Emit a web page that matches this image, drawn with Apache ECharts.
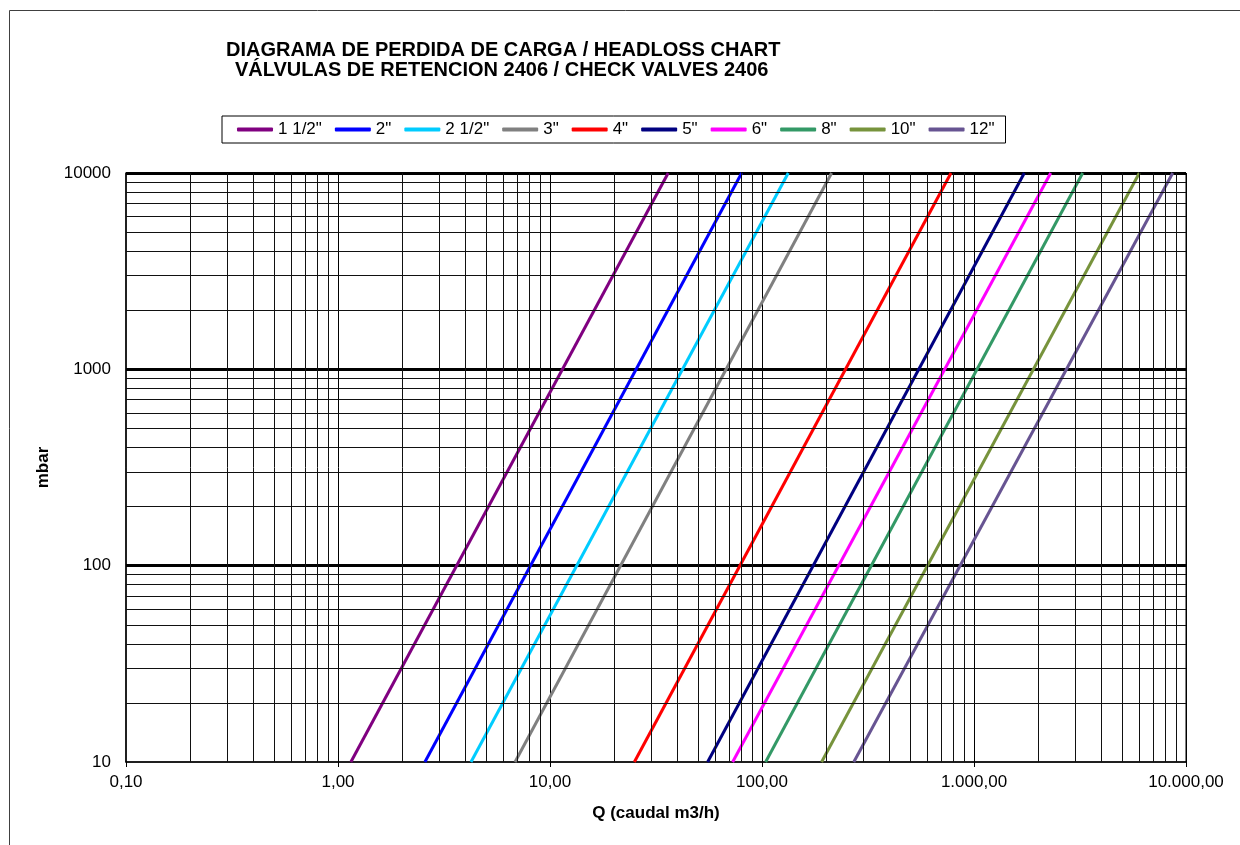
<!DOCTYPE html>
<html>
<head>
<meta charset="utf-8">
<script src="https://cdn.jsdelivr.net/npm/echarts@6/dist/echarts.min.js"></script>
<style>
  html, body { margin: 0; padding: 0; background: #fff; }
  #main { width: 1240px; height: 845px; }
</style>
</head>
<body>
<div id="main"></div>
<script>
var chartDom = document.getElementById('main');
var myChart = echarts.init(chartDom);
var option;

var FONT = "'Liberation Sans', Arial, sans-serif";

// diametros de valvula (leyenda)
var sizes = ['1 1/2"', '2"', '2 1/2"', '3"', '4"', '5"', '6"', '8"', '10"', '12"'];
var lineColors = ['#800080', '#0000FF', '#00CCFF', '#808080', '#FF0000', '#000080', '#FF00FF', '#339966', '#77933C', '#675492'];

// perdida de carga en los extremos del grafico (mbar)
var pressureEnds = [10, 10000];
var flowAtLow = [1.15, 2.57, 4.24, 6.84, 25.0, 55.4, 72.7, 104, 191, 271];
var flowAtHigh = [36.1, 80.2, 133, 213, 779, 1727, 2300, 3256, 6023, 8656];

// rejilla secundaria 2..9 de cada decada
var minorSteps = [2, 3, 4, 5, 6, 7, 8, 9];
var xDecades = [0.1, 1, 10, 100, 1000];
var yDecades = [10, 100, 1000];

function fmtES(v) {
    var s = Number(v).toFixed(2).split('.');
    return s[0].replace(/\B(?=(\d{3})+(?!\d))/g, '.') + ',' + s[1];
}

var minorLines = [];
xDecades.forEach(d => minorSteps.forEach(m => minorLines.push({ xAxis: d * m })));
yDecades.forEach(d => minorSteps.forEach(m => minorLines.push({ yAxis: d * m })));

var series = sizes.map((name, i) => ({
    name: name,
    type: 'line',
    z: 3,
    color: lineColors[i],
    showSymbol: false,
    symbol: 'none',
    lineStyle: { width: 3, color: lineColors[i] },
    data: [[flowAtLow[i], pressureEnds[0]], [flowAtHigh[i], pressureEnds[1]]]
}));

// serie vacia solo para las lineas de la rejilla secundaria
series.push({
    name: 'grid',
    type: 'line',
    z: 1,
    color: '#000',
    data: [],
    markLine: {
        silent: true,
        animation: false,
        symbol: ['none', 'none'],
        label: { show: false },
        lineStyle: { color: '#111', width: 1, type: 'solid' },
        emphasis: { disabled: true },
        data: minorLines
    }
});

option = {
    animation: false,
    backgroundColor: '#fff',
    textStyle: { fontFamily: FONT },
    title: [
        {
            text: 'DIAGRAMA DE PERDIDA DE CARGA / HEADLOSS CHART',
            left: 226, top: 40, padding: 0,
            textStyle: { fontSize: 20, fontWeight: 'bold', color: '#000', fontFamily: FONT }
        },
        {
            text: 'VÁLVULAS DE RETENCION 2406 / CHECK VALVES 2406',
            left: 235, top: 60, padding: 0,
            textStyle: { fontSize: 20, fontWeight: 'bold', color: '#000', fontFamily: FONT }
        }
    ],
    legend: {
        data: sizes,
        left: 222,
        top: 116,
        itemWidth: 36,
        itemHeight: 4,
        itemGap: 13,
        icon: 'roundRect',
        selectedMode: false,
        borderColor: '#000',
        borderWidth: 1,
        padding: [5, 11, 5, 15],
        textStyle: { fontSize: 17, color: '#000', fontFamily: FONT }
    },
    grid: {
        left: 126, right: 54, top: 173, bottom: 83,
        show: true, borderColor: '#000', borderWidth: 1
    },
    xAxis: {
        type: 'log',
        logBase: 10,
        min: 0.1,
        max: 10000,
        name: 'Q (caudal m3/h)',
        nameLocation: 'middle',
        nameGap: 43,
        nameTextStyle: { fontSize: 17, fontWeight: 'bold', color: '#000', fontFamily: FONT },
        axisLine: { show: true, lineStyle: { color: '#000', width: 1.5 } },
        axisTick: { show: true, length: 5, lineStyle: { color: '#000' } },
        axisLabel: { fontSize: 17, color: '#000', margin: 12, formatter: fmtES, fontFamily: FONT },
        splitLine: { show: true, showMinLine: false, lineStyle: { color: '#000', width: 1 } }
    },
    yAxis: {
        type: 'log',
        logBase: 10,
        min: 10,
        max: 10000,
        name: 'mbar',
        nameLocation: 'middle',
        nameGap: 74,
        nameTextStyle: { fontSize: 17, fontWeight: 'bold', color: '#000', fontFamily: FONT },
        axisLine: { show: true, lineStyle: { color: '#000', width: 1.5 } },
        axisTick: { show: false },
        axisLabel: { fontSize: 17, color: '#000', margin: 15, formatter: v => String(Math.round(v)), fontFamily: FONT },
        splitLine: { show: true, showMinLine: false, lineStyle: { color: '#000', width: 3 } }
    },
    graphic: [
        {
            type: 'rect',
            silent: true,
            shape: { x: 9.5, y: 10.5, width: 1300, height: 900 },
            style: { fill: 'none', stroke: '#404040', lineWidth: 1 }
        }
    ],
    series: series
};

option && myChart.setOption(option);
</script>
</body>
</html>
